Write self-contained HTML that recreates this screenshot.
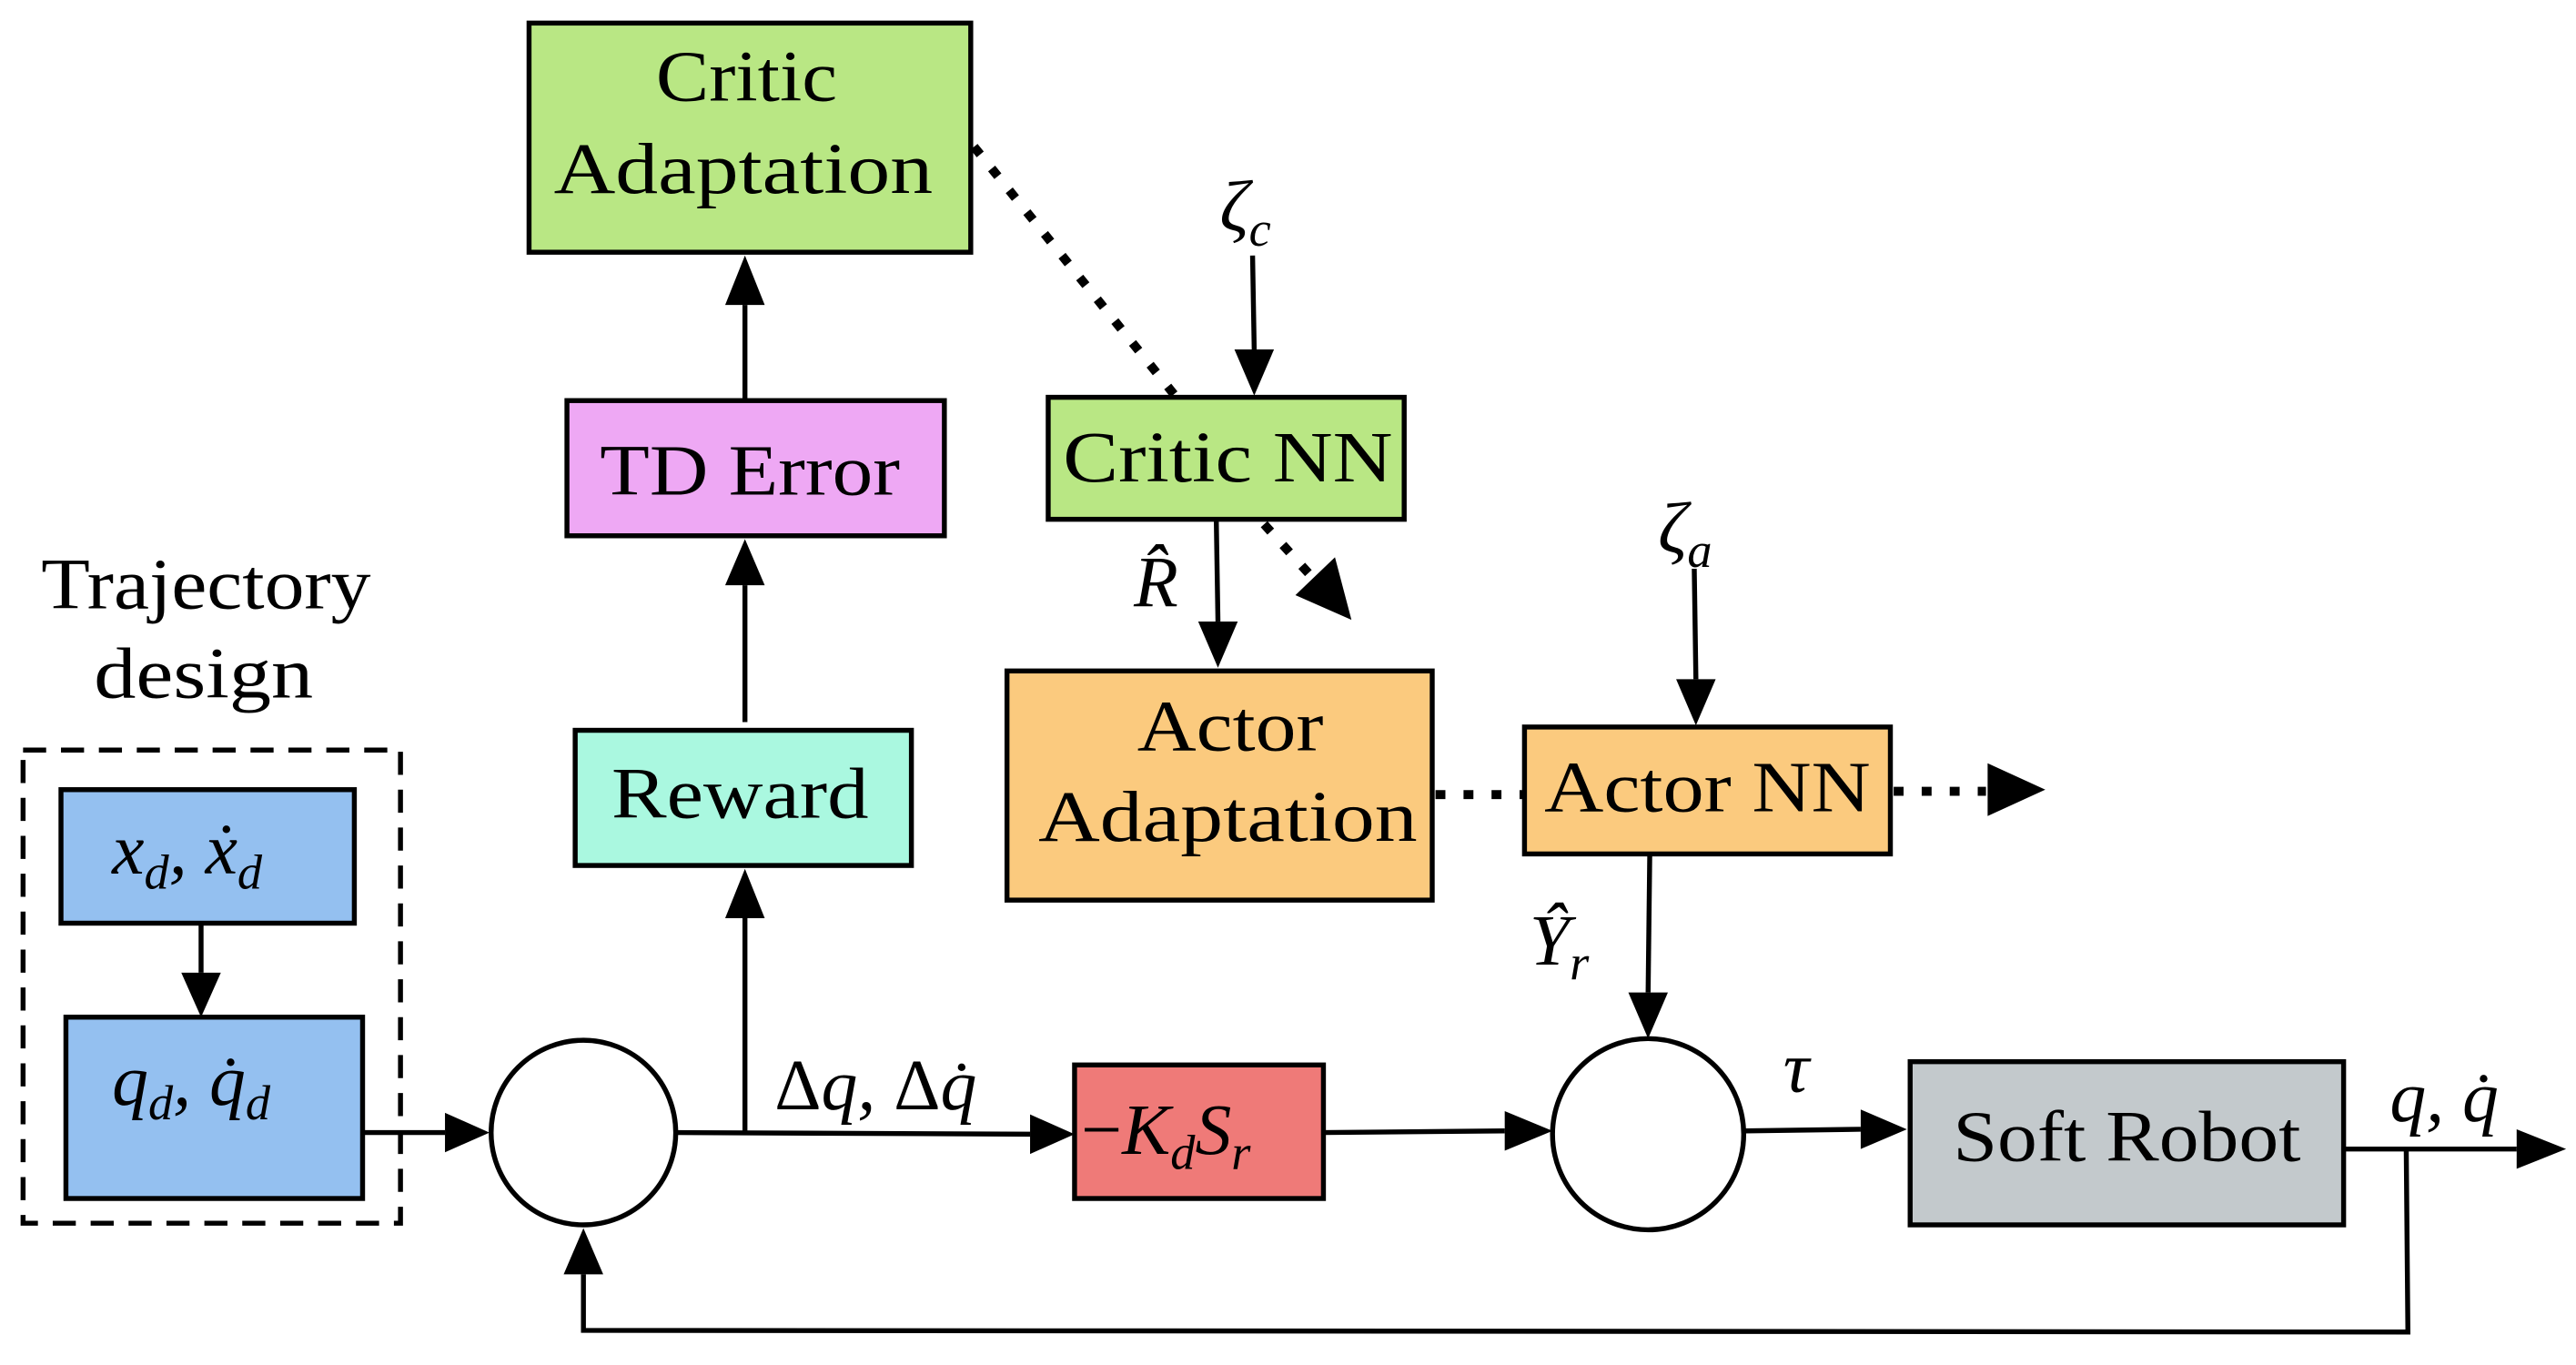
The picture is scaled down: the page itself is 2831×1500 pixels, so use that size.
<!DOCTYPE html>
<html><head><meta charset="utf-8">
<style>html,body{margin:0;padding:0;background:#fff}svg{display:block}
text{font-family:"Liberation Serif",serif;fill:#000}
.m{font-style:italic}</style></head>
<body>
<svg width="2831" height="1500" viewBox="0 0 1563 828" preserveAspectRatio="none" xmlns="http://www.w3.org/2000/svg">
<g stroke="#000" stroke-width="3">
<rect x="321" y="14" width="268" height="139" fill="#b9e784"/>
<rect x="344" y="243" width="229" height="82" fill="#eea8f4"/>
<rect x="349" y="443" width="204" height="82" fill="#aaf8e0"/>
<rect x="636" y="241" width="216" height="74" fill="#b9e784"/>
<rect x="611" y="407" width="258" height="139" fill="#fbca7e"/>
<rect x="925" y="441" width="222" height="77" fill="#fbca7e"/>
<rect x="37" y="479" width="178" height="81" fill="#94c0f0"/>
<rect x="40" y="617" width="180" height="110" fill="#94c0f0"/>
<rect x="652" y="646" width="151" height="81" fill="#ef7a78"/>
<rect x="1159" y="644" width="263" height="99" fill="#c3c9cc"/>
<rect x="14" y="455" width="229" height="287" fill="none" stroke-dasharray="14,9"/>
<circle cx="354" cy="687" r="56" fill="#fff"/>
<circle cx="1000" cy="688" r="58" fill="#fff"/>
<g fill="none">
<line x1="452" y1="243" x2="452" y2="185"/>
<line x1="452" y1="438" x2="452" y2="355"/>
<line x1="452" y1="688" x2="452" y2="557"/>
<line x1="760" y1="155" x2="761" y2="212"/>
<line x1="738" y1="316" x2="739" y2="377"/>
<line x1="1028" y1="345" x2="1029" y2="412"/>
<line x1="1001" y1="518" x2="1000" y2="602"/>
<line x1="122" y1="560" x2="122" y2="590"/>
<line x1="220" y1="687" x2="270" y2="687"/>
<line x1="410" y1="687" x2="625" y2="688"/>
<line x1="803" y1="687" x2="913" y2="686"/>
<line x1="1059" y1="686" x2="1129" y2="685"/>
<line x1="1422" y1="697" x2="1527" y2="697"/>
<polyline points="1460,697 1461,808 354,807 354,773"/>
<g stroke-width="5.5" stroke-dasharray="6,11">
<line x1="591" y1="89" x2="713" y2="240"/>
<line x1="767" y1="318" x2="796" y2="350"/>
<line x1="871" y1="482" x2="925" y2="482"/>
<line x1="1149" y1="480" x2="1205" y2="480"/>
</g>
</g>
</g>
<g fill="#000">
<polygon points="452,155 440,185 464,185"/>
<polygon points="452,327 440,355 464,355"/>
<polygon points="452,527 440,557 464,557"/>
<polygon points="761,240 749,212 773,212"/>
<polygon points="739,405 727,377 751,377"/>
<polygon points="1029,440 1017,412 1041,412"/>
<polygon points="1000,630 988,602 1012,602"/>
<polygon points="122,617 110,590 134,590"/>
<polygon points="297,687 270,675 270,699"/>
<polygon points="652,688 625,676 625,700"/>
<polygon points="942,686 913,674 913,698"/>
<polygon points="1157,685 1129,673 1129,697"/>
<polygon points="1557,697 1527,685 1527,709"/>
<polygon points="354,745 342,773 366,773"/>
<polygon points="1241,479 1206,463 1206,495"/>
<polygon points="820,376 810,338 786,361"/>
</g>
<g font-size="44">
<text x="398" y="61" textLength="110" lengthAdjust="spacingAndGlyphs">Critic</text>
<text x="336" y="117" textLength="230" lengthAdjust="spacingAndGlyphs">Adaptation</text>
<text x="364" y="300" textLength="182" lengthAdjust="spacingAndGlyphs">TD Error</text>
<text x="371" y="496" textLength="156" lengthAdjust="spacingAndGlyphs">Reward</text>
<text x="645" y="292" textLength="200" lengthAdjust="spacingAndGlyphs">Critic NN</text>
<text x="690" y="455" textLength="113" lengthAdjust="spacingAndGlyphs">Actor</text>
<text x="630" y="510" textLength="230" lengthAdjust="spacingAndGlyphs">Adaptation</text>
<text x="937" y="492" textLength="198" lengthAdjust="spacingAndGlyphs">Actor NN</text>
<text x="1185" y="704" textLength="211" lengthAdjust="spacingAndGlyphs">Soft Robot</text>
<text x="25" y="369" textLength="200" lengthAdjust="spacingAndGlyphs">Trajectory</text>
<text x="57" y="423" textLength="133" lengthAdjust="spacingAndGlyphs">design</text>
</g>
<g font-size="44" class="m">
<text x="68" y="530">x<tspan font-size="30" dy="9">d</tspan><tspan dy="-9">, ẋ</tspan><tspan font-size="30" dy="9">d</tspan></text>
<text x="68" y="670">q<tspan font-size="30" dy="9">d</tspan><tspan dy="-9">, q̇</tspan><tspan font-size="30" dy="9">d</tspan></text>
<text x="656" y="700"><tspan font-style="normal">−</tspan>K<tspan font-size="30" dy="9">d</tspan><tspan dy="-9">S</tspan><tspan font-size="30" dy="9">r</tspan></text>
<text x="470" y="673"><tspan font-style="normal">Δ</tspan>q, <tspan font-style="normal">Δ</tspan>q̇</text>
<text x="1082" y="662">τ</text>
<text x="1450" y="680">q, q̇</text>
<text x="740" y="140">ζ<tspan font-size="30" dy="9">c</tspan></text>
<text x="1006" y="335">ζ<tspan font-size="30" dy="9">a</tspan></text>
<text x="688" y="368">R̂</text>
<text x="928" y="585">Ŷ<tspan font-size="30" dy="9">r</tspan></text>
</g>
</svg>
</body></html>
